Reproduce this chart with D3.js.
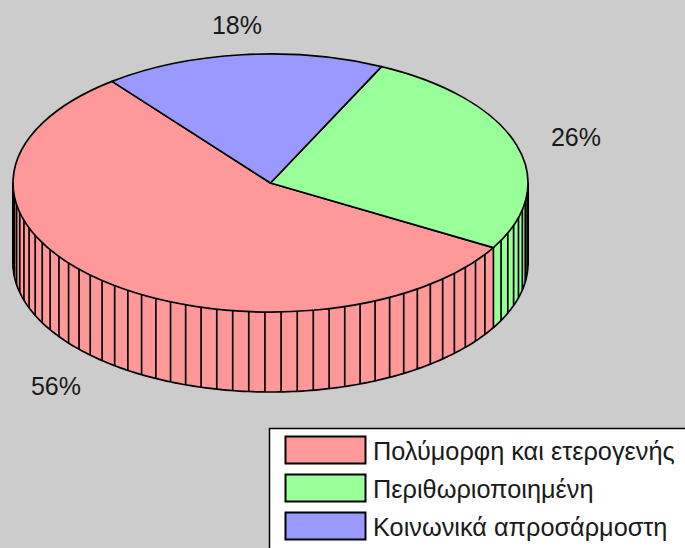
<!DOCTYPE html>
<html><head><meta charset="utf-8">
<script src="https://cdn.jsdelivr.net/npm/d3@7"></script>
<style>html,body{margin:0;padding:0;background:#ccc;overflow:hidden}svg{display:block}text{font-family:"Liberation Sans",Arial,sans-serif;fill:#1a1a1a}</style>
</head><body><script>
const categories = ["Πολύμορφη και ετερογενής", "Περιθωριοποιημένη", "Κοινωνικά απροσάρμοστη"];
const values = [56.1, 26.25, 17.65];
const labels = ["56%", "26%", "18%"];
const colors = ["#ff9999", "#99ff99", "#9999ff"];
const labelPos = [[56, 386], [576, 137], [237, 25]];

const W = 685, H = 548, cx = 270.5, cy = 183, rx = 257.5, ry = 129, depth = 80, sw = 1.7;
const svg = d3.select("body").append("svg").attr("width", W).attr("height", H);
svg.append("rect").attr("width", W).attr("height", H).attr("fill", "#cccccc");

// The pie runs counter-clockwise from the red slice's far end
const start = (90 + 232) * Math.PI / 180;
const pie = d3.pie().sort(null).startAngle(start).endAngle(start - 2 * Math.PI);
const arcs = pie(values);
const px = a => cx + rx * Math.sin(a), py = a => cy - ry * Math.cos(a);

// Visible wall: front half of the ellipse, angle PI/2 to 3PI/2
const lo = Math.PI / 2, hi = 3 * Math.PI / 2;
const wallGroup = svg.append("g");
arcs.forEach((d, i) => {
  const from = Math.min(d.startAngle, d.endAngle), to = Math.max(d.startAngle, d.endAngle);
  [0, -2 * Math.PI, 2 * Math.PI].forEach(sh => {
    const a0 = Math.max(from + sh, lo), a1 = Math.min(to + sh, hi);
    if (a1 <= a0) return;
    const n = 80, top = d3.range(n + 1).map(k => a0 + (a1 - a0) * k / n);
    const pts = top.map(a => [px(a), py(a)]).concat(top.slice().reverse().map(a => [px(a), py(a) + depth]));
    wallGroup.append("path").attr("d", d3.line()(pts) + "Z").attr("fill", colors[i]).attr("stroke", "none");
  });
});
// vertical wall lines at every percent, anchored at the red/green boundary
d3.range(100).forEach(k => {
  let a = arcs[0].endAngle + k / 100 * 2 * Math.PI;
  while (a < 0) a += 2 * Math.PI;
  while (a >= 2 * Math.PI) a -= 2 * Math.PI;
  if (a < lo || a > hi) return;
  wallGroup.append("line").attr("x1", px(a)).attr("x2", px(a)).attr("y1", py(a)).attr("y2", py(a) + depth)
    .attr("stroke", "#000").attr("stroke-width", sw);
});
// outer edges
const edge = d3.range(0, 181).map(k => { const a = lo + k * Math.PI / 180; return [px(a), py(a) + depth]; });
wallGroup.append("path").attr("d", d3.line()(edge)).attr("fill", "none").attr("stroke", "#000").attr("stroke-width", sw);
[lo, hi].forEach(a => wallGroup.append("line").attr("x1", px(a)).attr("x2", px(a)).attr("y1", py(a)).attr("y2", py(a) + depth).attr("stroke", "#000").attr("stroke-width", 2));

// top face
const arc = d3.arc().innerRadius(0).outerRadius(rx);
const topG = svg.append("g").attr("transform", `translate(${cx},${cy}) scale(1,${ry / rx})`);
topG.selectAll("path").data(arcs).join("path").attr("d", arc)
  .attr("fill", (d, i) => colors[i]).attr("stroke", "#000").attr("stroke-width", sw)
  .attr("vector-effect", "non-scaling-stroke").attr("stroke-linejoin", "round");

// percent labels
svg.selectAll("text.pct").data(labels).join("text").attr("class", "pct")
  .attr("x", (d, i) => labelPos[i][0]).attr("y", (d, i) => labelPos[i][1]).attr("dy", "0.36em")
  .attr("text-anchor", "middle").attr("font-size", 25).text(d => d);

// legend
svg.append("rect").attr("x", 269.5).attr("y", 428.5).attr("width", 440).attr("height", 140)
  .attr("fill", "#fff").attr("stroke", "#000").attr("stroke-width", 1.5);
const ly = d3.scaleBand().domain(categories).range([436.5, 550.5]).paddingInner(0);
const lg = svg.selectAll("g.leg").data(categories).join("g").attr("class", "leg")
  .attr("transform", d => `translate(285.5,${ly(d)})`);
lg.append("rect").attr("width", 80).attr("height", 27).attr("fill", (d, i) => colors[i]).attr("stroke", "#000").attr("stroke-width", 2);
lg.append("text").attr("x", 87.5).attr("y", 14).attr("dy", "0.36em").attr("font-size", 25.3).text(d => d);
</script></body></html>
